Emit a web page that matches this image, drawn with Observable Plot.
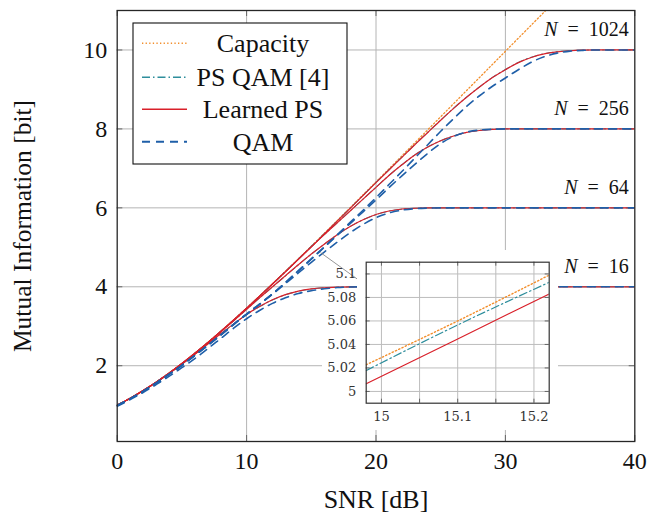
<!DOCTYPE html>
<html><head><meta charset="utf-8">
<script src="https://cdn.jsdelivr.net/npm/d3@7"></script>
<script src="https://cdn.jsdelivr.net/npm/@observablehq/plot@0.6"></script>
<style>
html,body{margin:0;padding:0;background:#fff;}
#wrap{position:relative;width:656px;height:513px;overflow:hidden;background:#fff;}
#wrap > *{position:absolute;}
.wb{background:#fff;}
</style></head><body>
<div id="wrap"></div>
<script>
// ---------- data ----------
const snr = [0,1,2,3,4,5,6,7,8,9,10,11,12,13,14,15,16,17,18,19,20,21,22,23,24,25,26,27,28,29,30,31,32,33,34,35,36,37,38,39,40];

const capacity = [1.000,1.176,1.370,1.583,1.812,2.057,2.317,2.588,2.870,3.161,3.459,3.765,4.075,4.389,4.707,5.028,5.351,5.676,6.002,6.330,6.658,6.987,7.317,7.648,7.978,8.309,8.640,8.972,9.303,9.635,9.967,10.299,10.630,10.962,11.294];

const qam16 = [0.97,1.14,1.32,1.52,1.73,1.95,2.18,2.43,2.69,2.95,3.19,3.40,3.58,3.72,3.83,3.90,3.95,3.98,3.993,3.998,4,4,4,4,4,4,4,4,4,4,4,4,4,4,4,4,4,4,4,4,4];
const lps16 = [1.00,1.17,1.365,1.575,1.80,2.04,2.29,2.55,2.81,3.06,3.30,3.50,3.67,3.80,3.89,3.945,3.975,3.99,3.997,4,4,4,4,4,4,4,4,4,4,4,4,4,4,4,4,4,4,4,4,4,4];
const ps16 = [0.998,1.169,1.364,1.574,1.799,2.038,2.288,2.547,2.806,3.056,3.296,3.497,3.667,3.797,3.888,3.943,3.974,3.989,3.997,4,4,4,4,4,4,4,4,4,4,4,4,4,4,4,4,4,4,4,4,4,4];

const qam64 = [0.99,1.16,1.35,1.56,1.78,2.01,2.26,2.51,2.77,3.04,3.30,3.55,3.81,4.08,4.35,4.62,4.88,5.13,5.37,5.58,5.75,5.87,5.94,5.98,5.995,6,6,6,6,6,6,6,6,6,6,6,6,6,6,6,6];
const lps64 = [1.00,1.175,1.37,1.58,1.81,2.05,2.31,2.58,2.86,3.14,3.43,3.72,4.00,4.28,4.56,4.83,5.08,5.32,5.53,5.70,5.83,5.92,5.97,5.99,5.998,6,6,6,6,6,6,6,6,6,6,6,6,6,6,6,6];
const ps64 = [0.998,1.174,1.369,1.579,1.808,2.048,2.307,2.577,2.857,3.137,3.427,3.717,3.997,4.277,4.557,4.827,5.077,5.317,5.527,5.697,5.827,5.917,5.967,5.989,5.997,6,6,6,6,6,6,6,6,6,6,6,6,6,6,6,6];

const qam256 = [0.99,1.16,1.35,1.56,1.78,2.01,2.26,2.52,2.78,3.05,3.31,3.56,3.82,4.11,4.40,4.70,5.00,5.30,5.60,5.90,6.20,6.51,6.81,7.10,7.38,7.63,7.81,7.92,7.97,7.99,8,8,8,8,8,8,8,8,8,8,8];
const lps256 = [1.00,1.175,1.37,1.582,1.81,2.055,2.315,2.586,2.867,3.157,3.455,3.76,4.07,4.38,4.695,5.01,5.32,5.62,5.92,6.22,6.52,6.82,7.09,7.34,7.54,7.70,7.82,7.91,7.96,7.99,8,8,8,8,8,8,8,8,8,8,8];
const ps256 = [0.999,1.174,1.369,1.581,1.809,2.054,2.314,2.585,2.866,3.157,3.456,3.761,4.071,4.382,4.698,5.015,5.323,5.623,5.922,6.222,6.522,6.821,7.091,7.341,7.541,7.701,7.821,7.911,7.961,7.99,8,8,8,8,8,8,8,8,8,8,8];

const qam1024 = [0.99,1.16,1.35,1.56,1.78,2.01,2.26,2.52,2.78,3.05,3.31,3.56,3.82,4.11,4.41,4.71,5.01,5.32,5.63,5.94,6.26,6.59,6.92,7.26,7.60,7.94,8.26,8.57,8.84,9.08,9.29,9.50,9.69,9.83,9.92,9.97,9.99,10,10,10,10];
const lps1024 = [1.00,1.175,1.37,1.582,1.811,2.056,2.316,2.587,2.868,3.159,3.457,3.762,4.072,4.385,4.70,5.013,5.338,5.662,5.988,6.313,6.638,6.96,7.28,7.60,7.91,8.22,8.52,8.80,9.06,9.30,9.50,9.68,9.81,9.90,9.95,9.98,9.995,10,10,10,10];
const ps1024 = [1.00,1.175,1.37,1.582,1.811,2.056,2.316,2.587,2.868,3.159,3.458,3.763,4.073,4.387,4.704,5.024,5.345,5.668,5.993,6.318,6.643,6.965,7.285,7.605,7.915,8.225,8.525,8.805,9.065,9.305,9.505,9.685,9.815,9.905,9.955,9.982,9.996,10,10,10,10];

// inset (zoom around 15 dB)
const insetSnr = [14.98, 15.1, 15.22];
const insetCapacity = [5.0227, 5.0600, 5.0990];
const insetPs = [5.0178, 5.0566, 5.0929];
const insetLps = [5.0065, 5.0447, 5.0830];

const nValues = [16, 64, 256, 1024];
const nLevels = [4, 6, 8, 10];
const pointer = [[15.74, 4.86], [19.3, 4.02]];

const xTicks = [0, 10, 20, 30, 40];
const yTicks = [2, 4, 6, 8, 10];
const insetGridX = [15, 15.05, 15.1, 15.15, 15.2];
const insetXTicks = [15, 15.1, 15.2];
const insetYTicks = [5, 5.02, 5.04, 5.06, 5.08, 5.1];

const legendLabels = ["Capacity", "PS QAM [4]", "Learned PS", "QAM"];
const xLabel = "SNR [dB]";
const yLabel = "Mutual Information [bit]";

// ---------- styles ----------
const C_CAP = "#f28e2b", C_PS = "#2e8e9c", C_LPS = "#d9202a", C_QAM = "#1f5fa8";
const styles = [
  {stroke: C_CAP, strokeWidth: 1.3, strokeDasharray: "1.3,2.3"},
  {stroke: C_PS, strokeWidth: 1.1, strokeDasharray: "8,3,1.5,3"},
  {stroke: C_LPS, strokeWidth: 1.2},
  {stroke: C_QAM, strokeWidth: 1.6, strokeDasharray: "8,6"}
];

const toRows = (xs, ys) => ys.map((v, i) => ({x: xs[i], y: v}));
const lineOf = (xs, ys, st) => Plot.line(toRows(xs, ys), {x: "x", y: "y", curve: "monotone-x", clip: true, ...st});

const SERIF = "Liberation Serif";
const INSET_FONT = "DejaVu Serif";

// ---------- main chart ----------
const main = Plot.plot({
  width: 656, height: 513,
  marginLeft: 116.7, marginRight: 21.7, marginTop: 10, marginBottom: 72,
  x: {domain: [0, 40], axis: null},
  y: {domain: [0.08, 11], axis: null},
  style: {fontFamily: SERIF, background: "white", color: "#111"},
  marks: [
    Plot.gridX([10, 20, 30], {stroke: "#b4b4b4", strokeOpacity: 1, strokeWidth: 1}),
    Plot.gridY(yTicks, {stroke: "#b4b4b4", strokeOpacity: 1, strokeWidth: 1}),
    Plot.ruleX(xTicks, {insetTop: 425, stroke: "#666", strokeWidth: 1}),
    Plot.ruleX(xTicks, {insetBottom: 425, stroke: "#666", strokeWidth: 1}),
    Plot.ruleY(yTicks, {insetRight: 512, stroke: "#666", strokeWidth: 1}),
    Plot.ruleY(yTicks, {insetLeft: 512, stroke: "#666", strokeWidth: 1}),
    lineOf(snr, capacity, styles[0]),
    lineOf(snr, ps16, styles[1]), lineOf(snr, ps64, styles[1]), lineOf(snr, ps256, styles[1]), lineOf(snr, ps1024, styles[1]),
    lineOf(snr, lps16, styles[2]), lineOf(snr, lps64, styles[2]), lineOf(snr, lps256, styles[2]), lineOf(snr, lps1024, styles[2]),
    lineOf(snr, qam16, styles[3]), lineOf(snr, qam64, styles[3]), lineOf(snr, qam256, styles[3]), lineOf(snr, qam1024, styles[3]),
    Plot.line(pointer, {x: d => d[0], y: d => d[1], stroke: "#8a8a8a", strokeWidth: 0.9}),
    Plot.frame({stroke: "#262626", strokeWidth: 1.3}),
    Plot.text(nLevels, {x: () => 40, y: d => d, text: (d, i) => "N\u2002=\u2002" + nValues[i], textAnchor: "end", lineAnchor: "middle", dx: -6, dy: -20, fontSize: 20, fill: "#111"}),
    // tick labels as plain string text
    Plot.text(xTicks, {x: d => d, frameAnchor: "bottom", text: d => String(d), textAnchor: "middle", lineAnchor: "top", dy: 10.5, fontSize: 24, fill: "#111"}),
    Plot.text(yTicks, {y: d => d, frameAnchor: "left", text: d => String(d), textAnchor: "end", lineAnchor: "middle", dx: -10, fontSize: 24, fill: "#111"}),
    Plot.text([xLabel], {text: d => d, frameAnchor: "bottom", textAnchor: "middle", lineAnchor: "middle", dy: 58, fontSize: 26, fill: "#111"}),
    Plot.text([yLabel], {text: d => d, frameAnchor: "left", textAnchor: "middle", lineAnchor: "middle", dx: -94, rotate: -90, fontSize: 25.5, fill: "#111"})
  ]
});
const setFont = (node, fam) => {
  const s = d3.select(node);
  s.attr("font-family", fam);
  s.selectAll("g").attr("font-family", fam);
  s.selectAll("text").attr("font-family", fam);
  s.selectAll("[font-variant]").attr("font-variant", null);
};
setFont(main, SERIF);
// italic N in the constellation-size labels
d3.select(main).selectAll("text").each(function() {
  const t = this.textContent;
  if (t.startsWith("N\u2002=")) {
    const rest = t.slice(1);
    this.textContent = "";
    d3.select(this).append("tspan").attr("font-style", "italic").text("N");
    d3.select(this).append("tspan").text(rest);
  }
});

const wrap = document.getElementById("wrap");
main.style.left = "0px"; main.style.top = "0px";
wrap.appendChild(main);

// white area under the inset
const boxA = document.createElement("div");
boxA.className = "wb";
Object.assign(boxA.style, {left: "322px", top: "290px", width: "36px", height: "140px"});
const boxB = document.createElement("div");
boxB.className = "wb";
Object.assign(boxB.style, {left: "357px", top: "250px", width: "201px", height: "180px"});
wrap.appendChild(boxA); wrap.appendChild(boxB);

// ---------- inset ----------
const iw = 258, ih = 180, iml = 65.7, imr = 9.3, imt = 11.7, imb = 27.3;
const fw = iw - iml - imr, fh = ih - imt - imb;
const inset = Plot.plot({
  width: iw, height: ih,
  marginLeft: iml, marginRight: imr, marginTop: imt, marginBottom: imb,
  x: {domain: [14.98, 15.22], axis: null},
  y: {domain: [4.99, 5.11], axis: null},
  style: {fontFamily: INSET_FONT, background: "transparent", color: "#333", overflow: "visible"},
  marks: [
    Plot.frame({fill: "white", stroke: "none"}),
    Plot.gridX(insetGridX, {stroke: "#bdbdbd", strokeOpacity: 1, strokeWidth: 1}),
    Plot.gridY(insetYTicks, {stroke: "#bdbdbd", strokeOpacity: 1, strokeWidth: 1}),
    Plot.ruleX(insetGridX, {insetTop: fh - 4, stroke: "#666"}),
    Plot.ruleX(insetGridX, {insetBottom: fh - 4, stroke: "#666"}),
    Plot.ruleY(insetYTicks, {insetRight: fw - 4, stroke: "#666"}),
    Plot.ruleY(insetYTicks, {insetLeft: fw - 4, stroke: "#666"}),
    lineOf(insetSnr, insetCapacity, {...styles[0], strokeWidth: 1.4}),
    lineOf(insetSnr, insetPs, {...styles[1], strokeWidth: 1.2}),
    lineOf(insetSnr, insetLps, {...styles[2], strokeWidth: 1.2}),
    Plot.frame({stroke: "#333", strokeWidth: 1.2}),
    Plot.text(insetXTicks, {x: d => d, frameAnchor: "bottom", text: d => String(d), textAnchor: "middle", lineAnchor: "top", dy: 9, fontSize: 13, fill: "#333"}),
    Plot.text(insetYTicks, {y: d => d, frameAnchor: "left", text: d => String(d), textAnchor: "end", lineAnchor: "middle", dx: -10, fontSize: 13, fill: "#333"})
  ]
});
setFont(inset, INSET_FONT);
inset.style.left = "300px"; inset.style.top = "250px";
wrap.appendChild(inset);

// ---------- legend ----------
const lw = 214, lh = 141;
const leg = d3.create("svg").attr("width", lw + 2).attr("height", lh + 2)
  .style("left", "132px").style("top", "22px").style("position", "absolute");
leg.append("rect").attr("x", 1).attr("y", 1).attr("width", lw).attr("height", lh)
  .attr("fill", "white").attr("stroke", "#111").attr("stroke-width", 1.1);
const rowY = [21.3, 55.3, 87.3, 119.7];
legendLabels.forEach((lab, i) => {
  const st = styles[i];
  leg.append("line").attr("x1", 10).attr("x2", 55).attr("y1", rowY[i]).attr("y2", rowY[i])
    .attr("stroke", st.stroke).attr("stroke-width", st.strokeWidth + 0.3)
    .attr("stroke-dasharray", st.strokeDasharray || null);
  leg.append("text").attr("x", 131).attr("y", rowY[i] + 9).attr("text-anchor", "middle")
    .attr("font-family", SERIF).attr("font-size", 26).attr("fill", "#111")
    .text(lab);
});
wrap.appendChild(leg.node());
</script>
</body></html>
